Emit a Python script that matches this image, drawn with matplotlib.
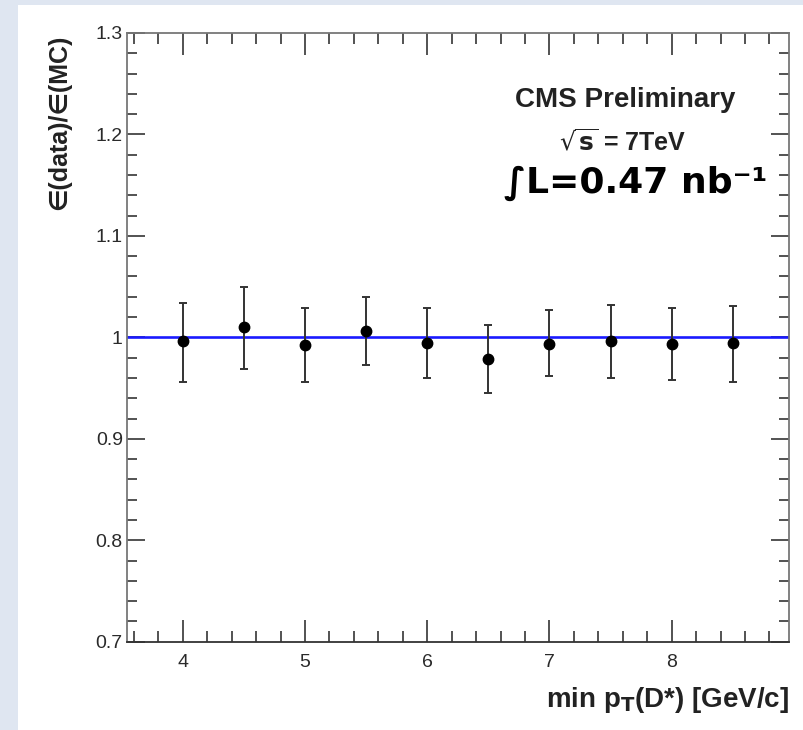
import matplotlib
matplotlib.use("Agg")
import matplotlib.pyplot as plt
from matplotlib.patches import Rectangle
from matplotlib.ticker import MultipleLocator, FixedLocator, FixedFormatter

# ---- data ----
pt_min = [4.0, 4.5, 5.0, 5.5, 6.0, 6.5, 7.0, 7.5, 8.0, 8.5]
ratio = [0.996, 1.010, 0.992, 1.006, 0.994, 0.979, 0.993, 0.996, 0.993, 0.994]
err_up = [0.038, 0.040, 0.037, 0.034, 0.035, 0.033, 0.034, 0.036, 0.036, 0.037]
err_dn = [0.040, 0.041, 0.036, 0.033, 0.034, 0.034, 0.031, 0.036, 0.035, 0.038]
ytick_vals = [0.7, 0.8, 0.9, 1.0, 1.1, 1.2, 1.3]
ytick_labels = ["0.7", "0.8", "0.9", "1", "1.1", "1.2", "1.3"]
xtick_vals = [4, 5, 6, 7, 8]
xtick_labels = ["4", "5", "6", "7", "8"]

fig = plt.figure(figsize=(8.04, 7.30), dpi=100)
fig.patch.set_facecolor("#dfe6f1")
fig.add_artist(Rectangle((18 / 804, 0), 1 - 18 / 804, 1 - 5 / 730,
                         transform=fig.transFigure, facecolor="white",
                         edgecolor="none", zorder=0))

ax = fig.add_axes([127 / 804, 1 - 641.7 / 730, (789 - 127) / 804, (641.7 - 33) / 730])
ax.set_facecolor("white")
ax.set_xlim(3.544, 8.96)
ax.set_ylim(0.7, 1.3)

ax.axhline(1.0, color="#1a1aff", lw=1.9, zorder=2)

ax.errorbar(pt_min, ratio, yerr=[err_dn, err_up], fmt="o", color="black",
            ecolor="#333333", elinewidth=1.4, capsize=3, capthick=1.4,
            markersize=7.5, zorder=3)

for sp in ax.spines.values():
    sp.set_color("#777777")
    sp.set_linewidth(1.3)
ax.spines["bottom"].set_color("#333333")

fam = ["Liberation Sans", "DejaVu Sans"]
ax.xaxis.set_major_locator(FixedLocator(xtick_vals))
ax.xaxis.set_major_formatter(FixedFormatter(xtick_labels))
ax.yaxis.set_major_locator(FixedLocator(ytick_vals))
ax.yaxis.set_major_formatter(FixedFormatter(ytick_labels))
ax.xaxis.set_minor_locator(MultipleLocator(0.2))
ax.yaxis.set_minor_locator(MultipleLocator(0.02))
ax.tick_params(axis="both", which="both", direction="in", top=True, right=True,
               colors="#444444", width=1.3)
ax.tick_params(axis="x", which="major", length=16, pad=9)
ax.tick_params(axis="x", which="minor", length=8)
ax.tick_params(axis="y", which="major", length=13, pad=3)
ax.tick_params(axis="y", which="minor", length=7)
for lab in ax.get_xticklabels() + ax.get_yticklabels():
    lab.set_fontfamily(fam)
    lab.set_fontsize(14)
    lab.set_color("#2a2a2a")

fig.text(59 / 804, 1 - 122 / 730, "∈(data)/∈(MC)", rotation=90, ha="center",
         va="center", fontsize=18, fontweight="bold", family=fam, color="#222222")
fig.text(789 / 804, 1 - 700 / 730, r"min p$_{\mathbf{T}}$(D*) [GeV/c]", ha="right",
         va="center", fontsize=20, fontweight="bold", family=fam, color="#222222")

fig.text(625 / 804, 1 - 100 / 730, "CMS Preliminary", ha="center", va="center",
         fontsize=20, fontweight="bold", family=fam, color="#222222")
fig.text(623 / 804, 1 - 142 / 730, r"$\sqrt{\mathbf{s}}$ = 7TeV", ha="center",
         va="center", fontsize=18, fontweight="bold", family=fam, color="#222222")
fig.text(636 / 804, 1 - 183 / 730, "∫L=0.47 nb⁻¹", ha="center",
         va="center", fontsize=26, fontweight="bold", family=["DejaVu Sans"],
         color="black")

fig.savefig("out.png", dpi=100, facecolor=fig.get_facecolor())
